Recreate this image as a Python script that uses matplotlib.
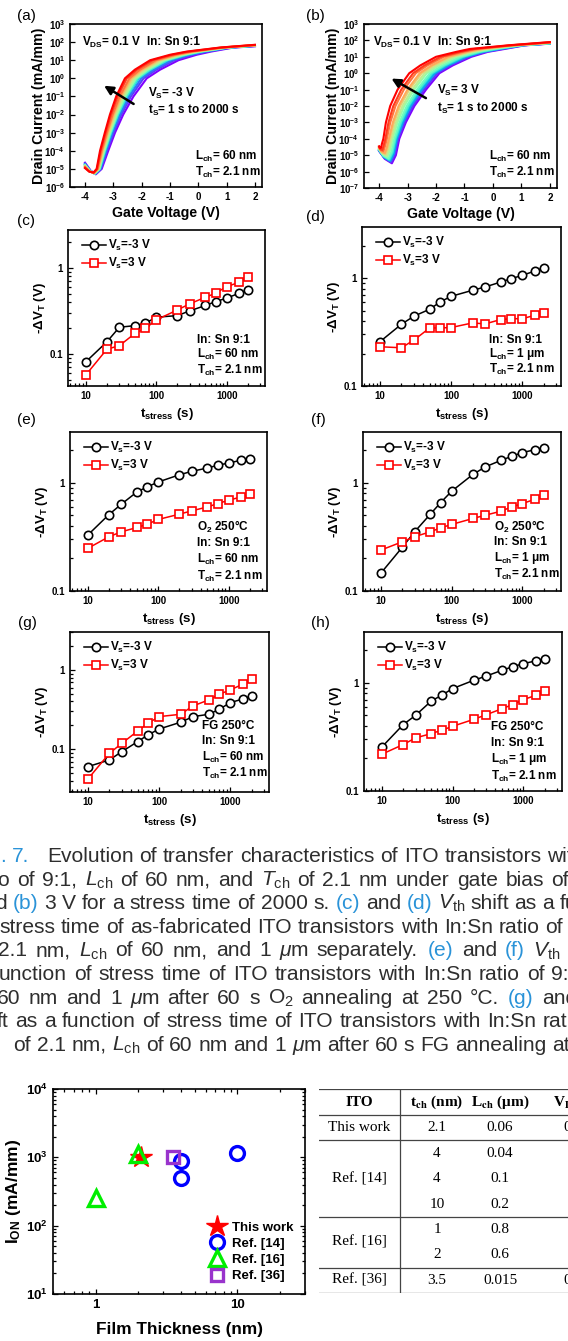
"""Rebuild the ITO stress figure: transfer sweeps, V_T shift panels, caption, I_ON scatter and table."""

import re

import matplotlib

matplotlib.use("Agg")
import matplotlib.pyplot as plt
import numpy as np
from matplotlib.ticker import FuncFormatter, LogLocator, NullFormatter

W_PX, H_PX = 568, 1341

STRESS_S = [10, 20, 30, 50, 70, 100, 200, 300, 500, 700, 1000, 1500, 2000]

# -dV_T (V) (c)-(h); NEG is V_s = -3 V, POS is V_s = 3 V
C_NEG = [0.081, 0.139, 0.205, 0.214, 0.228, 0.268, 0.28, 0.318, 0.367, 0.408, 0.446, 0.51, 0.558]
C_POS = [0.057, 0.114, 0.125, 0.174, 0.199, 0.249, 0.326, 0.384, 0.458, 0.51, 0.61, 0.68, 0.78]
D_NEG = [0.257, 0.373, 0.443, 0.514, 0.60, 0.677, 0.77, 0.826, 0.919, 0.986, 1.06, 1.16, 1.24]
D_POS = [0.231, 0.226, 0.266, 0.345, 0.345, 0.348, 0.384, 0.376, 0.413, 0.42, 0.42, 0.452, 0.475]
E_NEG = [0.329, 0.51, 0.636, 0.826, 0.919, 1.02, 1.19, 1.28, 1.375, 1.456, 1.53, 1.62, 1.68]
E_POS = [0.248, 0.318, 0.353, 0.387, 0.415, 0.459, 0.514, 0.552, 0.60, 0.644, 0.692, 0.742, 0.786]
F_NEG = [0.146, 0.253, 0.353, 0.514, 0.658, 0.838, 1.2, 1.41, 1.62, 1.76, 1.91, 2.03, 2.12]
F_POS = [0.239, 0.285, 0.318, 0.353, 0.384, 0.413, 0.469, 0.503, 0.548, 0.60, 0.644, 0.707, 0.77]
G_NEG = [0.0605, 0.0734, 0.0935, 0.125, 0.152, 0.18, 0.219, 0.258, 0.276, 0.319, 0.387, 0.43, 0.47]
G_POS = [0.0423, 0.089, 0.119, 0.17, 0.213, 0.258, 0.276, 0.352, 0.419, 0.493, 0.56, 0.66, 0.762]
H_NEG = [0.255, 0.411, 0.502, 0.681, 0.769, 0.887, 1.06, 1.16, 1.31, 1.41, 1.51, 1.6, 1.66]
H_POS = [0.219, 0.269, 0.31, 0.34, 0.365, 0.397, 0.461, 0.509, 0.578, 0.63, 0.701, 0.769, 0.843]

# transfer sweeps (a), (b): first (1 s) and last (2000 s) curve, matched point by point
A_FIRST_VG = [-4.0, -3.8, -3.62, -3.41, -3.18, -2.94, -2.65, -2.29, -1.82, -1.35, -0.70, -0.06, 0.45, 1.24, 2.0]
A_FIRST_ID = [2.2e-5, 8e-6, 5e-6, 1e-5, 1e-4, 1e-3, 1e-2, 0.1, 1, 3, 10, 20, 30, 50, 59]
A_LAST_VG = [-4.0, -3.85, -3.7, -3.59, -3.47, -3.3, -3.12, -2.9, -2.59, -2.24, -1.7, -1.0, -0.41, 0.76, 2.0]
A_LAST_ID = [1.1e-5, 7e-6, 6.3e-6, 1e-5, 1e-4, 1e-3, 1e-2, 0.1, 1, 3, 10, 20, 30, 50, 71]
B_FIRST_VG = [-4.0, -3.8, -3.55, -3.41, -3.29, -3.06, -2.76, -2.35, -1.88, -1.41, -0.76, -0.18, 0.41, 1.12, 2.0]
B_FIRST_ID = [1.8e-5, 6e-6, 3.2e-6, 1e-5, 1e-4, 1e-3, 1e-2, 0.1, 1, 3, 10, 20, 30, 50, 63]
B_LAST_VG = [-4.0, -3.97, -3.93, -3.9, -3.85, -3.76, -3.61, -3.35, -2.94, -2.55, -2.0, -1.29, -0.82, 0.53, 2.0]
B_LAST_ID = [3.5e-5, 2.8e-5, 2.8e-5, 5e-5, 1e-4, 1e-3, 1e-2, 0.1, 1, 3, 10, 20, 30, 50, 79]
SWEEP_S = [1] + STRESS_S
A_SHIFT = [0.0] + C_NEG
B_SHIFT = [0.0] + C_POS

# I_ON benchmark
THICK_THIS, ION_THIS = [2.1], [1000]
THICK_14, ION_14 = [4, 4, 10], [870, 500, 1170]
THICK_16, ION_16 = [1, 2], [253, 1120]
THICK_36, ION_36 = [3.5], [1000]

TABLE_HEAD = ["ITO", r"t$_{\mathbf{ch}}$ (nm)", r"L$_{\mathbf{ch}}$ (μm)", r"V$_{\mathbf{DS}}$ (V)"]
TABLE_GROUPS = ["This work", "Ref. [14]", "Ref. [16]", "Ref. [36]"]
GROUP_ROWS = [1, 3, 2, 1]
TABLE_TCH = ["2.1", "4", "4", "10", "1", "2", "3.5"]
TABLE_LCH = ["0.06", "0.04", "0.1", "0.2", "0.8", "0.6", "0.015"]
TABLE_VDS = ["0.1", "", "", "", "", "", "0.1"]

LCH = r"$\mathit{L}_{\mathrm{ch}}$"
TCH = r"$\mathit{T}_{\mathrm{ch}}$"
VTH = r"$\mathit{V}_{\mathrm{th}}$"
MU = r"$\mu$"
# caption: baseline y, extra word gap (justified text), pieces of (x start, runs)
CAPTION = [
    (862, 0.0, [(0.5, [(". 7.", "b")]),
                (47, [("Evolution of transfer characteristics of ITO transistors with In:Sn", "k")])]),
    (885.6, 1.7, [(-2.5, [(f"o of 9:1, {LCH} of 60 nm, and {TCH} of 2.1 nm under gate bias of", "k")])]),
    (909.2, 0.0, [(-5, [("d ", "k"), ("(b)", "b"), (" 3 V for a stress time of 2000 s. ", "k"), ("(c)", "b"),
                        (" and ", "k"), ("(d)", "b"), (f" {VTH} shift as a function of", "k")])]),
    (932.8, 0.0, [(-1, [("stress time of as-fabricated ITO transistors with In:Sn ratio of 9:1", "k")])]),
    (956.4, 2.5, [(-2, [(f"2.1 nm, {LCH} of 60 nm, and 1 {MU}m separately. ", "k"), ("(e)", "b"),
                        (" and ", "k"), ("(f)", "b"), (f" {VTH} shift as a", "k")])]),
    (980.0, 1.1, [(-1, [("unction of stress time of ITO transistors with In:Sn ratio of 9:1", "k")])]),
    (1003.6, 2.5, [(-3, [(f"60 nm and 1 {MU}m after 60 s O$_{{\\mathrm{{2}}}}$ annealing at 250 °C. ", "k"),
                         ("(g)", "b"), (" and ", "k"), ("(h)", "b")])]),
    (1027.2, 0.5, [(-3, [("ft as a function of stress time of ITO transistors with In:Sn ratio of", "k")])]),
    (1050.8, 0.0, [(13, [(f"of 2.1 nm, {LCH} of 60 nm and 1 {MU}m after 60 s FG annealing at 250 °C.", "k")])]),
]
CAPTION_COLORS = {"k": "#2e2e2e", "b": "#2a93d8"}


def px_box(left, top, right, bottom):
    return [left / W_PX, 1 - bottom / H_PX, (right - left) / W_PX, (bottom - top) / H_PX]


def put(fig, x, y, s, **kw):
    return fig.text(x / W_PX, 1 - y / H_PX, s, **kw)


def style_axes(ax, size=7.5):
    for side in ax.spines.values():
        side.set_linewidth(1.2)
    ax.tick_params(which="both", direction="in", labelsize=size, width=0.9)
    ax.tick_params(which="major", length=3.5)
    ax.tick_params(which="minor", length=2)


def pow10(value, _pos):
    return r"$\mathbf{10^{%d}}$" % round(np.log10(value))


def sweep_panel(fig, box, first_vg, first_id, last_vg, last_id, shifts, ymin):
    ax = fig.add_axes(px_box(*box))
    shifts = np.asarray(shifts)
    fractions = shifts / shifts.max()
    colors = plt.cm.rainbow(np.linspace(0, 1, len(shifts)))
    fv, lv = np.asarray(first_vg), np.asarray(last_vg)
    fi, li = np.log10(first_id), np.log10(last_id)
    for frac, color in zip(fractions, colors):
        ax.plot(fv + (lv - fv) * frac, 10 ** (fi + (li - fi) * frac), color=color, lw=1.5)
    ax.set_yscale("log")
    ax.set_ylim(ymin, 1e3)
    ax.set_xlim(-4.53, 2.25)
    ax.set_xticks([-4, -3, -2, -1, 0, 1, 2])
    ax.yaxis.set_major_locator(LogLocator(base=10, numticks=20))
    ax.yaxis.set_major_formatter(FuncFormatter(pow10))
    ax.yaxis.set_minor_locator(LogLocator(base=10, subs=[], numticks=20))
    style_axes(ax, 7)
    ax.set_xlabel("Gate Voltage (V)", fontsize=10.2, labelpad=3)
    ax.set_ylabel("Drain Current (mA/mm)", fontsize=10.2, labelpad=-1)
    return ax


def shift_panel(fig, box, neg, pos, ylim, yticks):
    ax = fig.add_axes(px_box(*box))
    ax.plot(STRESS_S, neg, color="black", lw=1.1, marker="o", ms=6, mfc="white", mew=1.2,
            label=r"V$_{\mathbf{s}}$=-3 V")
    ax.plot(STRESS_S, pos, color="#ff0000", lw=1.1, marker="s", ms=6, mfc="white", mew=1.2,
            label=r"V$_{\mathbf{s}}$=3 V")
    ax.set_xscale("log")
    ax.set_yscale("log")
    ax.set_xlim(5.6, 3500)
    ax.set_ylim(*ylim)
    ax.set_xticks([10, 100, 1000], ["10", "100", "1000"])
    ax.set_yticks(yticks, [("%g" % v) for v in yticks])
    ax.xaxis.set_minor_locator(LogLocator(base=10, subs=range(2, 10), numticks=20))
    ax.xaxis.set_minor_formatter(NullFormatter())
    ax.yaxis.set_minor_locator(LogLocator(base=10, subs=range(2, 10), numticks=20))
    ax.yaxis.set_minor_formatter(NullFormatter())
    style_axes(ax, 7)
    ax.set_xlabel(r"t$_{\mathbf{stress}}$ (s)", fontsize=9.6, labelpad=4)
    ax.set_ylabel(r"-ΔV$_{\mathbf{T}}$ (V)", fontsize=9.6, labelpad=1)
    ax.legend(loc="upper left", bbox_to_anchor=(0.03, 1.0), frameon=False, fontsize=8.5,
              handlelength=2.0, handletextpad=0.15, labelspacing=0.2, borderaxespad=0.3)
    return ax


def text_width(fig, renderer, s, size):
    """Advance width of s, trailing spaces included."""
    if not s:
        return 0.0
    probe = put(fig, 0, 0, s + "I", fontsize=size, fontweight="normal")
    full = probe.get_window_extent(renderer).width
    probe.set_text("I")
    width = full - probe.get_window_extent(renderer).width
    probe.remove()
    return width


def caption_line(fig, renderer, y, extra, pieces, size):
    for x0, runs in pieces:
        done = ""
        for text, key in runs:
            for token in re.split(r"( )", text):
                if token and token != " ":
                    x = x0 + text_width(fig, renderer, done, size) + extra * done.count(" ")
                    put(fig, x, y, token, fontsize=size, fontweight="normal", va="baseline",
                        color=CAPTION_COLORS[key])
                done += token


def main():
    plt.rcParams.update({
        "font.family": "Liberation Sans",
        "font.weight": "bold",
        "axes.labelweight": "bold",
        "axes.unicode_minus": False,
        "mathtext.fontset": "custom",
        "mathtext.rm": "Liberation Sans:weight=normal",
        "mathtext.it": "Liberation Sans:slant=italic:weight=normal",
        "mathtext.bf": "Liberation Sans:weight=bold",
        "figure.facecolor": "white",
    })
    fig = plt.figure(figsize=(W_PX / 100, H_PX / 100), dpi=100)

    # (a) and (b) transfer curves
    ax_a = sweep_panel(fig, (70, 24, 262, 187), A_FIRST_VG, A_FIRST_ID, A_LAST_VG, A_LAST_ID, A_SHIFT, 1e-6)
    ax_a.annotate("", xy=(-3.41, 0.47), xytext=(-2.2, 0.032),
                  arrowprops=dict(arrowstyle="-|>", lw=1.8, color="black", mutation_scale=13))
    ax_b = sweep_panel(fig, (364, 24, 557, 188), B_FIRST_VG, B_FIRST_ID, B_LAST_VG, B_LAST_ID, B_SHIFT, 1e-7)
    ax_b.annotate("", xy=(-3.65, 0.57), xytext=(-2.27, 0.025),
                  arrowprops=dict(arrowstyle="-|>", lw=1.8, color="black", mutation_scale=13))

    note = dict(fontsize=8.5, va="center")
    for x0, stress in ((0, "-3 V"), (291, "3 V")):
        put(fig, 82 + x0, 42, r"V$_{\mathbf{DS}}$= 0.1 V", **note)
        put(fig, 147 + x0, 42, "In: Sn 9:1", **note)
        put(fig, 148 + x0 - 2 * (x0 > 0), 93 - 3 * (x0 > 0), r"V$_{\mathbf{S}}$= " + stress, **note)
        put(fig, 148 + x0 - 2 * (x0 > 0), 110 - 2 * (x0 > 0), r"t$_{\mathbf{S}}$= 1 s to 2000 s", **note)
        put(fig, 195 + x0 + 3 * (x0 > 0), 156, r"L$_{\mathbf{ch}}$= 60 nm", **note)
        put(fig, 195 + x0 + 3 * (x0 > 0), 172, r"T$_{\mathbf{ch}}$= 2.1 nm", **note)

    # (c)-(h) threshold shift against stress time
    shift_panel(fig, (68, 230, 265, 386), C_NEG, C_POS, (0.0425, 2.77), [0.1, 1])
    shift_panel(fig, (362, 227, 561, 386), D_NEG, D_POS, (0.1, 2.97), [0.1, 1])
    shift_panel(fig, (70, 432, 267, 591), E_NEG, E_POS, (0.1, 2.96), [0.1, 1])
    shift_panel(fig, (363, 432, 561, 591), F_NEG, F_POS, (0.1, 2.96), [0.1, 1])
    shift_panel(fig, (70, 632, 269, 792), G_NEG, G_POS, (0.029, 3.0), [0.1, 1])
    shift_panel(fig, (364, 632, 562, 791), H_NEG, H_POS, (0.1, 2.96), [0.1, 1])

    lch60 = r"L$_{\mathbf{ch}}$= 60 nm"
    lch1 = r"L$_{\mathbf{ch}}$= 1 μm"
    tch = r"T$_{\mathbf{ch}}$= 2.1 nm"
    o2 = r"O$_{\mathbf{2}}$ 250°C"
    notes = [
        (197, [340, 354, 370], ["In: Sn 9:1", lch60, tch]),
        (489, [340, 354, 369], ["In: Sn 9:1", lch1, tch]),
        (197, [527, 543, 559, 576], [o2, "In: Sn 9:1", lch60, tch]),
        (494, [527, 542, 558, 574], [o2, "In: Sn 9:1", lch1, tch]),
        (202, [726, 741, 757, 773], ["FG 250°C", "In: Sn 9:1", lch60, tch]),
        (491, [727, 743, 759, 776], ["FG 250°C", "In: Sn 9:1", lch1, tch]),
    ]
    for x, ys, lines in notes:
        for y, s in zip(ys, lines):
            put(fig, x, y, s, **note)

    for label, x, y in (("(a)", 17, 16), ("(b)", 306, 16), ("(c)", 17, 221), ("(d)", 306, 217),
                        ("(e)", 17, 420), ("(f)", 311, 420), ("(g)", 18, 623), ("(h)", 311, 623)):
        put(fig, x, y, label, fontsize=11, fontweight="normal", va="center")

    # caption text
    renderer = fig.canvas.get_renderer()
    for y, extra, pieces in CAPTION:
        caption_line(fig, renderer, y, extra, pieces, 15.1)

    # I_ON against film thickness
    ax = fig.add_axes(px_box(53, 1089, 305, 1294))
    ax.plot(THICK_THIS, ION_THIS, ls="none", marker="*", ms=16, color="#ff0000", label="This work")
    ax.plot(THICK_14, ION_14, ls="none", marker="o", ms=10, mfc="none", mec="#0000ff", mew=2.4,
            label="Ref. [14]")
    ax.plot(THICK_16, ION_16, ls="none", marker="^", ms=11, mfc="none", mec="#00ee00", mew=2.4,
            label="Ref. [16]")
    ax.plot(THICK_36, ION_36, ls="none", marker="s", ms=9, mfc="none", mec="#9933cc", mew=2.4,
            label="Ref. [36]")
    ax.set_xscale("log")
    ax.set_yscale("log")
    ax.set_xlim(0.5, 30)
    ax.set_ylim(10, 1e4)
    ax.set_xticks([1, 10], ["1", "10"])
    ax.xaxis.set_minor_locator(LogLocator(base=10, subs=range(2, 10), numticks=20))
    ax.xaxis.set_minor_formatter(NullFormatter())
    ax.yaxis.set_major_locator(LogLocator(base=10, numticks=10))
    ax.yaxis.set_major_formatter(FuncFormatter(pow10))
    ax.yaxis.set_minor_locator(LogLocator(base=10, subs=range(2, 10), numticks=20))
    ax.yaxis.set_minor_formatter(NullFormatter())
    style_axes(ax, 9.5)
    ax.tick_params(which="both", top=True, right=True)
    ax.set_xlabel("Film Thickness (nm)", fontsize=12.4, labelpad=8)
    ax.set_ylabel(r"I$_{\mathbf{ON}}$ (mA/mm)", fontsize=12.5, labelpad=2)
    ax.legend(loc="lower right", bbox_to_anchor=(1.0, 0.0), frameon=False, fontsize=9.5,
              handletextpad=0.5, labelspacing=0.3, borderaxespad=0.5, handlelength=1.2)

    # comparison table
    tax = fig.add_axes(px_box(319, 1089, 620, 1293))
    tax.set_xlim(319, 620)
    tax.set_ylim(1293, 1089)
    tax.axis("off")
    head_y, row_h = 1102, (1293 - 1115) / 7
    cell = dict(fontsize=11, fontweight="normal", family="Liberation Serif", ha="center",
                va="center", math_fontfamily="stix")
    head = dict(cell, fontweight="bold")
    for s, x, ha in zip(TABLE_HEAD, (359, 437, 500, 553), ("center", "center", "center", "left")):
        tax.text(x, head_y, s, **dict(head, ha=ha))
    line = dict(color="#444444", lw=0.9)
    tax.plot([319, 620], [1089, 1089], **line)
    tax.plot([319, 620], [1115, 1115], **line)
    tax.plot([400, 400], [1089, 1293], **line)
    row = 0
    for group, n in zip(TABLE_GROUPS, GROUP_ROWS):
        top = 1115 + row * row_h
        tax.text(359, top + n * row_h / 2, group, **cell)
        for k in range(row, row + n):
            yc = 1115 + (k + 0.5) * row_h
            tax.text(437, yc, TABLE_TCH[k], **cell)
            tax.text(500, yc, TABLE_LCH[k], **cell)
            if TABLE_VDS[k]:
                tax.text(563, yc, TABLE_VDS[k], **dict(cell, ha="left"))
        row += n
        tax.plot([319, 620], [1115 + row * row_h] * 2, **line)

    fig.savefig("out.png", dpi=100)
    plt.close(fig)


if __name__ == "__main__":
    main()
